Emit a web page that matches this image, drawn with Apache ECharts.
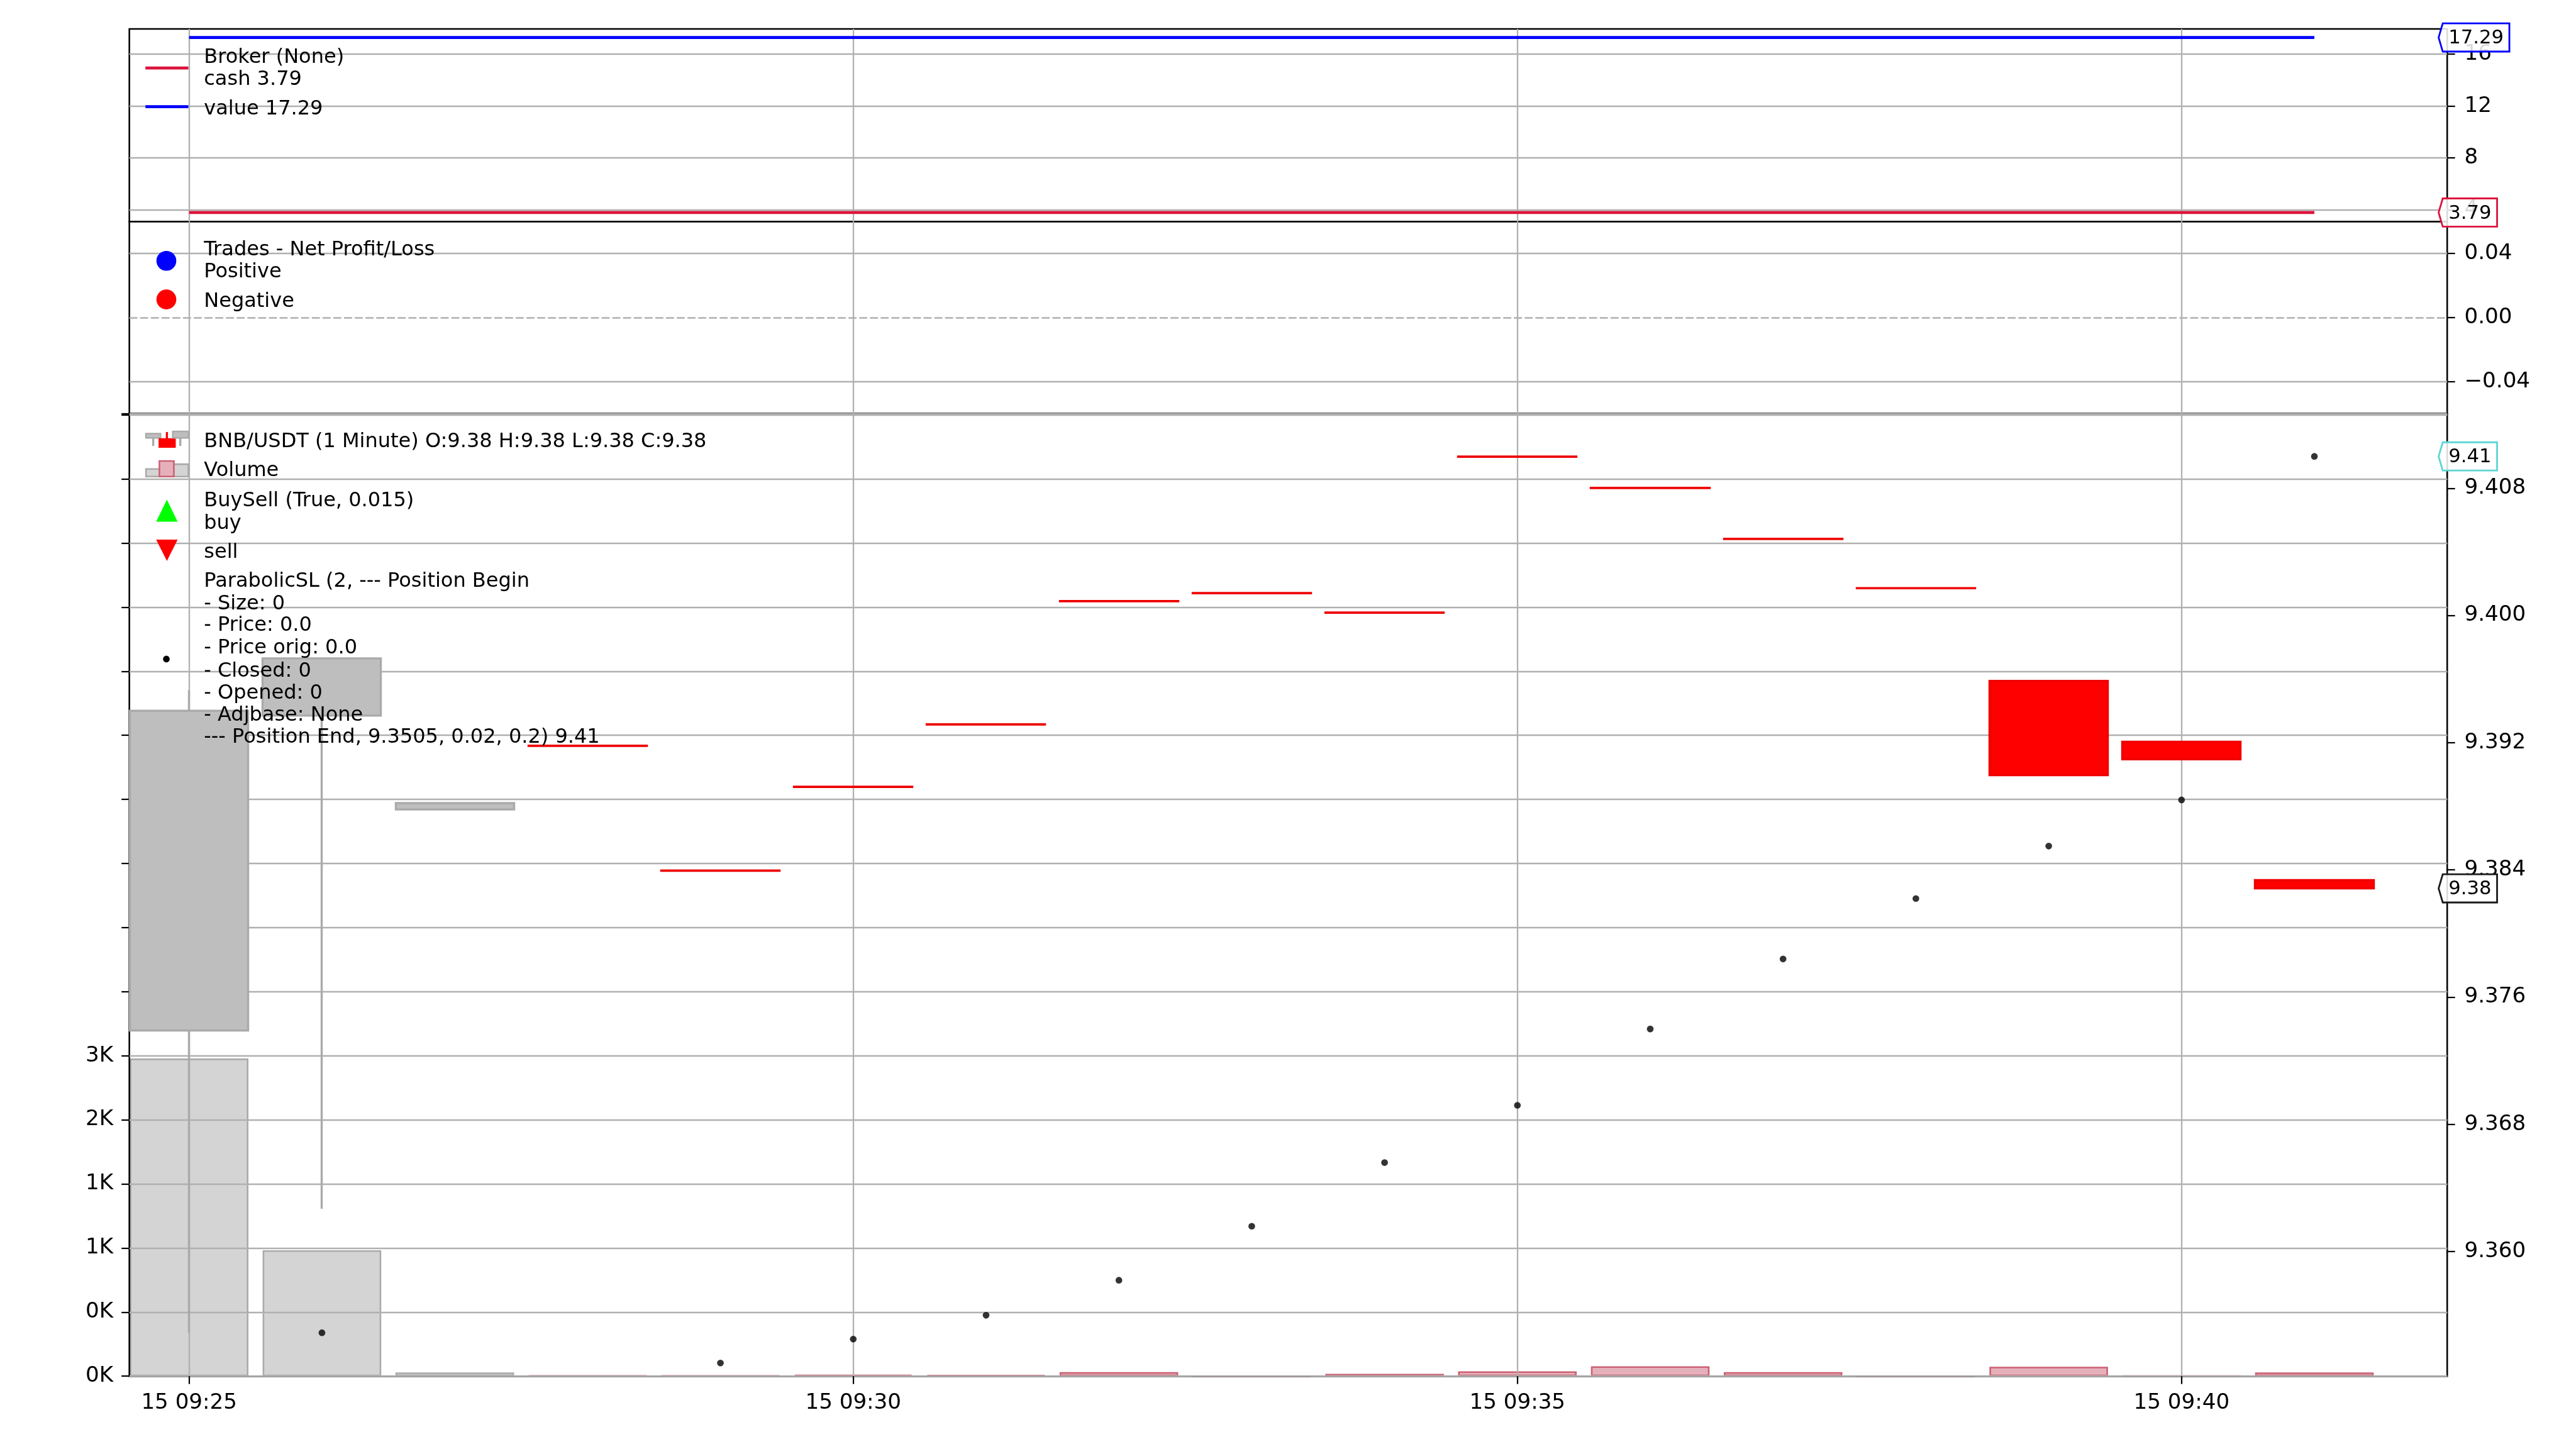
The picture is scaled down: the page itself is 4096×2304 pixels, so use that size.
<!DOCTYPE html>
<html>
<head>
<meta charset="utf-8">
<script src="https://cdn.jsdelivr.net/npm/echarts@6/dist/echarts.min.js"></script>
<style>html,body{margin:0;padding:0;background:#fff}#c{width:4096px;height:2304px}</style>
</head>
<body>
<div id="c"></div>
<script>
// ---------------- data ----------------
const times = ['15 09:25','15 09:26','15 09:27','15 09:28','15 09:29','15 09:30','15 09:31','15 09:32','15 09:33',
               '15 09:34','15 09:35','15 09:36','15 09:37','15 09:38','15 09:39','15 09:40','15 09:41'];
const xTickIdx = [0, 5, 10, 15];
const open   = [9.3739, 9.3937, 9.3878, 9.39181, 9.38396, 9.38923, 9.39315, 9.40090, 9.40141, 9.40018, 9.40999, 9.40802, 9.40482, 9.40172, 9.39588, 9.39206, 9.38336];
const high   = [9.3953, 9.3973, 9.3882, 9.39181, 9.38396, 9.38923, 9.39315, 9.40090, 9.40141, 9.40018, 9.40999, 9.40802, 9.40482, 9.40172, 9.39588, 9.39206, 9.38336];
const low    = [9.3549, 9.3627, 9.3878, 9.39180, 9.38395, 9.38922, 9.39314, 9.40089, 9.40140, 9.40017, 9.40998, 9.40801, 9.40481, 9.40171, 9.38996, 9.39096, 9.38284];
const close  = [9.3940, 9.3973, 9.3882, 9.39180, 9.38395, 9.38922, 9.39314, 9.40089, 9.40140, 9.40017, 9.40998, 9.40801, 9.40481, 9.40171, 9.38996, 9.39096, 9.38284];
const volume = [2974, 1179, 35, 5, 5, 15, 10, 38, 0, 22, 45, 93, 38, 0, 88, 2, 35];
const psar   = [null, 9.3549, null, null, 9.3530, 9.3545, 9.3560, 9.3582, 9.3616, 9.3656, 9.3692, 9.3740, 9.3784, 9.3822, 9.3855, 9.3884, 9.4100];
const cash   = [3.79, 3.79, 3.79, 3.79, 3.79, 3.79, 3.79, 3.79, 3.79, 3.79, 3.79, 3.79, 3.79, 3.79, 3.79, 3.79, 3.79];
const value  = [17.29, 17.29, 17.29, 17.29, 17.29, 17.29, 17.29, 17.29, 17.29, 17.29, 17.29, 17.29, 17.29, 17.29, 17.29, 17.29, 17.29];
const brokerTicks = [4, 8, 12, 16];
const pnlTicks = [-0.04, 0, 0.04];
const priceTicks = [9.360, 9.368, 9.376, 9.384, 9.392, 9.400, 9.408];

// axis limits
const X_MIN = -0.45, X_MAX = 17;
const BROKER_MIN = 3.1, BROKER_MAX = 17.945;
const PNL_MIN = -0.06, PNL_MAX = 0.06;
const PRICE_MIN = 9.35217, PRICE_MAX = 9.41269;
const VOL_SCALING = 0.33;

// ---------------- layout helpers ----------------
const S = 4096 / 4800;
const F = v => v * S;
const FAM = '"DejaVu Sans"';
const GRID = '#b0b0b0';
const last = a => a[a.length - 1];
const n = times.length;

const volMax = Math.max(...volume);
const volTop = volMax / VOL_SCALING;
const volLabelCap = volMax * 1.2;

const mctx = document.createElement('canvas').getContext('2d');
function textW(t, fs) { mctx.font = fs + 'px ' + FAM; return mctx.measureText(t).width; }

const gridDefs = [
  { left: F(241), top: F(54),    width: F(4319), height: F(358.7) },
  { left: F(241), top: F(412.7), width: F(4319), height: F(358) },
  { left: F(241), top: F(770.7), width: F(4319), height: F(1793.6) }
].map(g => Object.assign(g, { show: true, borderColor: '#000', borderWidth: F(3), backgroundColor: 'transparent', z: 2 }));

const tickStyle = { color: '#000', width: F(2.6) };
const labelBase = { color: '#000', fontFamily: FAM, fontSize: F(40) };
const noLine = { show: false, onZero: false };

function xAxis(gi, showLabel) {
  return {
    type: 'value', gridIndex: gi, min: X_MIN, max: X_MAX, z: 2,
    axisLine: noLine,
    axisTick: { show: showLabel, customValues: xTickIdx, length: F(14.6), lineStyle: tickStyle },
    axisLabel: Object.assign({ show: showLabel, customValues: xTickIdx, margin: F(30),
      formatter: v => times[Math.round(v)] }, labelBase),
    splitLine: { show: true, lineStyle: { color: GRID, width: F(2.7) } }
  };
}

const yAxes = [
  { type: 'value', gridIndex: 0, position: 'right', min: BROKER_MIN, max: BROKER_MAX, z: 2,
    axisLine: noLine,
    axisTick: { show: true, customValues: brokerTicks, length: F(14.6), lineStyle: tickStyle },
    axisLabel: Object.assign({ customValues: brokerTicks, margin: F(32), formatter: v => String(v) }, labelBase),
    splitLine: { show: true, lineStyle: { color: GRID, width: F(2.7) } } },
  { type: 'value', gridIndex: 1, position: 'right', min: PNL_MIN, max: PNL_MAX, z: 2,
    axisLine: noLine,
    axisTick: { show: true, customValues: pnlTicks, length: F(14.6), lineStyle: tickStyle },
    axisLabel: Object.assign({ customValues: pnlTicks, margin: F(32),
      formatter: v => (v < 0 ? '\u2212' : '') + Math.abs(v).toFixed(2) }, labelBase),
    splitLine: { show: false } },
  { type: 'value', gridIndex: 2, position: 'left', min: 0, max: volTop, interval: 600, z: 2,
    axisLine: noLine,
    axisTick: { show: true, length: F(14.6), lineStyle: tickStyle },
    axisLabel: Object.assign({ margin: F(30), showMaxLabel: true, showMinLabel: true,
      formatter: v => v > volLabelCap ? '' : Math.floor(v / 1000) + 'K' }, labelBase),
    splitLine: { show: true, lineStyle: { color: GRID, width: F(2.7) } } },
  { type: 'value', gridIndex: 2, position: 'right', min: PRICE_MIN, max: PRICE_MAX, z: 2,
    axisLine: noLine,
    axisTick: { show: true, customValues: priceTicks, length: F(14.6), lineStyle: tickStyle },
    axisLabel: Object.assign({ customValues: priceTicks, margin: F(32), formatter: v => v.toFixed(3) }, labelBase),
    splitLine: { show: false } }
];

// tag (price label box at right axis)
function tagSeries(xi, yi, x, y, color, text) {
  return {
    type: 'custom', xAxisIndex: xi, yAxisIndex: yi, z: 10, silent: true, clip: false,
    data: [[x, y]],
    renderItem: (params, api) => {
      const py = api.coord([api.value(0), api.value(1)])[1];
      const xr = params.coordSys.x + params.coordSys.width;
      const fs = F(36);
      const tw = textW(text, fs);
      const tip = xr - F(16), bl = xr - F(8.3), tx = xr + F(2.3), br = tx + tw + F(10.5), h = F(26.3);
      return { type: 'group', children: [
        { type: 'polygon', shape: { points: [[tip, py], [bl, py - h], [br, py - h], [br, py + h], [bl, py + h]] },
          style: { fill: 'rgba(255,255,255,0.85)', stroke: color, lineWidth: F(3.3) } },
        { type: 'text', style: { text: text, x: tx, y: py + F(2), verticalAlign: 'middle', align: 'left',
          font: fs + 'px ' + FAM, fill: '#000' } }
      ] };
    }
  };
}

const volUp = { color: '#d4d4d4', borderColor: '#aaaaaa', borderWidth: F(3) };
const volDown = { color: '#e5b0b9', borderColor: '#cc6073', borderWidth: F(3) };

const series = [
  { type: 'line', name: 'value', xAxisIndex: 0, yAxisIndex: 0, z: 3, symbol: 'none', showSymbol: false, silent: true,
    data: value.map((v, i) => [i, v]), lineStyle: { color: '#0000ff', width: F(5.5) } },
  { type: 'line', name: 'cash', xAxisIndex: 0, yAxisIndex: 0, z: 3, symbol: 'none', showSymbol: false, silent: true,
    data: cash.map((v, i) => [i, v]), lineStyle: { color: '#dc143c', width: F(5.5) } },
  tagSeries(0, 0, n - 1, last(value), '#0000ff', last(value).toFixed(2)),
  tagSeries(0, 0, n - 1, last(cash), '#dc143c', last(cash).toFixed(2)),
  { type: 'scatter', name: 'Positive', xAxisIndex: 1, yAxisIndex: 1, z: 3, data: [],
    itemStyle: { color: '#0000ff' },
    markLine: { silent: true, symbol: ['none', 'none'], label: { show: false }, animation: false,
      data: [
        { yAxis: pnlTicks[0], lineStyle: { color: GRID, width: F(2.7), type: 'solid' } },
        { yAxis: pnlTicks[2], lineStyle: { color: GRID, width: F(2.7), type: 'solid' } },
        { yAxis: 0, lineStyle: { color: GRID, width: F(3), type: [F(15), F(5)] } }
      ] } },
  { type: 'scatter', name: 'Negative', xAxisIndex: 1, yAxisIndex: 1, z: 3, data: [], itemStyle: { color: '#ff0000' } },
  { type: 'bar', name: 'Volume', xAxisIndex: 2, yAxisIndex: 2, z: 1, barWidth: F(221), silent: true,
    data: volume.map((v, i) => ({ value: [i, v], itemStyle: close[i] >= open[i] ? volUp : volDown })) },
  { type: 'candlestick', name: 'BNB/USDT', xAxisIndex: 2, yAxisIndex: 3, z: 3, barWidth: F(221), silent: true,
    encode: { x: 0, y: [1, 2, 3, 4] },
    data: open.map((o, i) => [i, o, close[i], low[i], high[i]]),
    itemStyle: { color: '#bebebe', color0: '#ff0000', borderColor: '#aaaaaa', borderColor0: '#ee0000', borderWidth: F(4) } },
  { type: 'scatter', name: 'ParabolicSL', xAxisIndex: 2, yAxisIndex: 3, z: 4, symbol: 'circle', symbolSize: F(12.5), silent: true,
    data: psar.map((v, i) => v == null ? null : [i, v]).filter(d => d),
    itemStyle: { color: '#000' } },
  tagSeries(2, 3, n - 1, last(psar), '#5cd6d3', last(psar).toFixed(2)),
  tagSeries(2, 3, n - 1, last(close), '#1a1a1a', last(close).toFixed(2))
];

// ---------------- legends (graphic) ----------------
const LF = F(37.5);
const TX = 380;
const TDY = 4;   // text baseline adjustment
const gT = (y, text) => ({ type: 'text', x: F(TX), y: F(y + TDY), z: 20, silent: true,
  style: { text: text, font: LF + 'px ' + FAM, fill: '#000', verticalAlign: 'middle', align: 'left' } });
const gL = (x1, x2, y, color, w) => ({ type: 'line', z: 20, silent: true,
  shape: { x1: F(x1), y1: F(y), x2: F(x2), y2: F(y) }, style: { stroke: color, lineWidth: F(w) } });
const gV = (x, y1, y2, color, w) => ({ type: 'line', z: 20, silent: true,
  shape: { x1: F(x), y1: F(y1), x2: F(x), y2: F(y2) }, style: { stroke: color, lineWidth: F(w) } });
const gR = (x, y, w, h, fill, stroke) => ({ type: 'rect', z: 21, silent: true,
  shape: { x: F(x), y: F(y), width: F(w), height: F(h) }, style: { fill: fill, stroke: stroke, lineWidth: F(3) } });
const gC = (cx, cy, r, fill) => ({ type: 'circle', z: 20, silent: true,
  shape: { cx: F(cx), cy: F(cy), r: F(r) }, style: { fill: fill } });
const gP = (pts, fill) => ({ type: 'polygon', z: 20, silent: true,
  shape: { points: pts.map(p => [F(p[0]), F(p[1])]) }, style: { fill: fill } });

const lo = n - 1;
const graphics = [
  // panel 1
  gL(271, 351, 126.7, '#dc143c', 5.5),
  gL(271, 351, 198.7, '#0000ff', 5.5),
  gT(103.3, 'Broker (None)'),
  gT(145, 'cash ' + last(cash).toFixed(2)),
  gT(200, 'value ' + last(value).toFixed(2)),
  // panel 2
  gC(310, 486, 18.5, '#0000ff'),
  gC(310, 558, 18.5, '#ff0000'),
  gT(461.7, 'Trades - Net Profit/Loss'),
  gT(503.3, 'Positive'),
  gT(558.3, 'Negative'),
  // panel 3 icons: candles
  gV(285.5, 808, 831, '#aaaaaa', 4), gR(272, 808, 27, 8, '#bebebe', '#aaaaaa'),
  gV(311, 805, 818, '#ff0000', 4), gR(297, 818, 29, 15, '#ff0000', '#ff0000'),
  gV(336, 804, 831, '#aaaaaa', 4), gR(322, 804, 29, 12, '#bebebe', '#aaaaaa'),
  // volume icon
  gR(272, 874, 27, 14, '#d4d4d4', '#aaaaaa'),
  gR(322, 865, 29, 23, '#d4d4d4', '#aaaaaa'),
  gR(297, 859, 27, 29, '#e5b0b9', '#cc6073'),
  // buy / sell
  gP([[311, 931], [291, 972], [331, 972]], '#00ff00'),
  gP([[291, 1005.5], [331, 1005.5], [311, 1045.3]], '#ff0000'),
  // psar dot
  gC(310, 1228, 6.2, '#000'),
  gT(819.6, 'BNB/USDT (1 Minute) O:' + open[lo].toFixed(2) + ' H:' + high[lo].toFixed(2) +
            ' L:' + low[lo].toFixed(2) + ' C:' + close[lo].toFixed(2)),
  gT(873.4, 'Volume'),
  gT(929.3, 'BuySell (True, 0.015)'),
  gT(971.6, 'buy'),
  gT(1025.4, 'sell'),
  gT(1080, 'ParabolicSL (2, --- Position Begin'),
  gT(1121.5, '- Size: 0'),
  gT(1162, '- Price: 0.0'),
  gT(1204.3, '- Price orig: 0.0'),
  gT(1247, '- Closed: 0'),
  gT(1288.3, '- Opened: 0'),
  gT(1329.8, '- Adjbase: None'),
  gT(1369.9, '--- Position End, 9.3505, 0.02, 0.2) ' + last(psar).toFixed(2))
];

const chart = echarts.init(document.getElementById('c'), null, { renderer: 'canvas' });
chart.setOption({
  animation: false,
  backgroundColor: '#ffffff',
  textStyle: { fontFamily: FAM },
  grid: gridDefs,
  xAxis: [xAxis(0, false), xAxis(1, false), xAxis(2, true)],
  yAxis: yAxes,
  series: series,
  graphic: { elements: graphics }
});
</script>
</body>
</html>
